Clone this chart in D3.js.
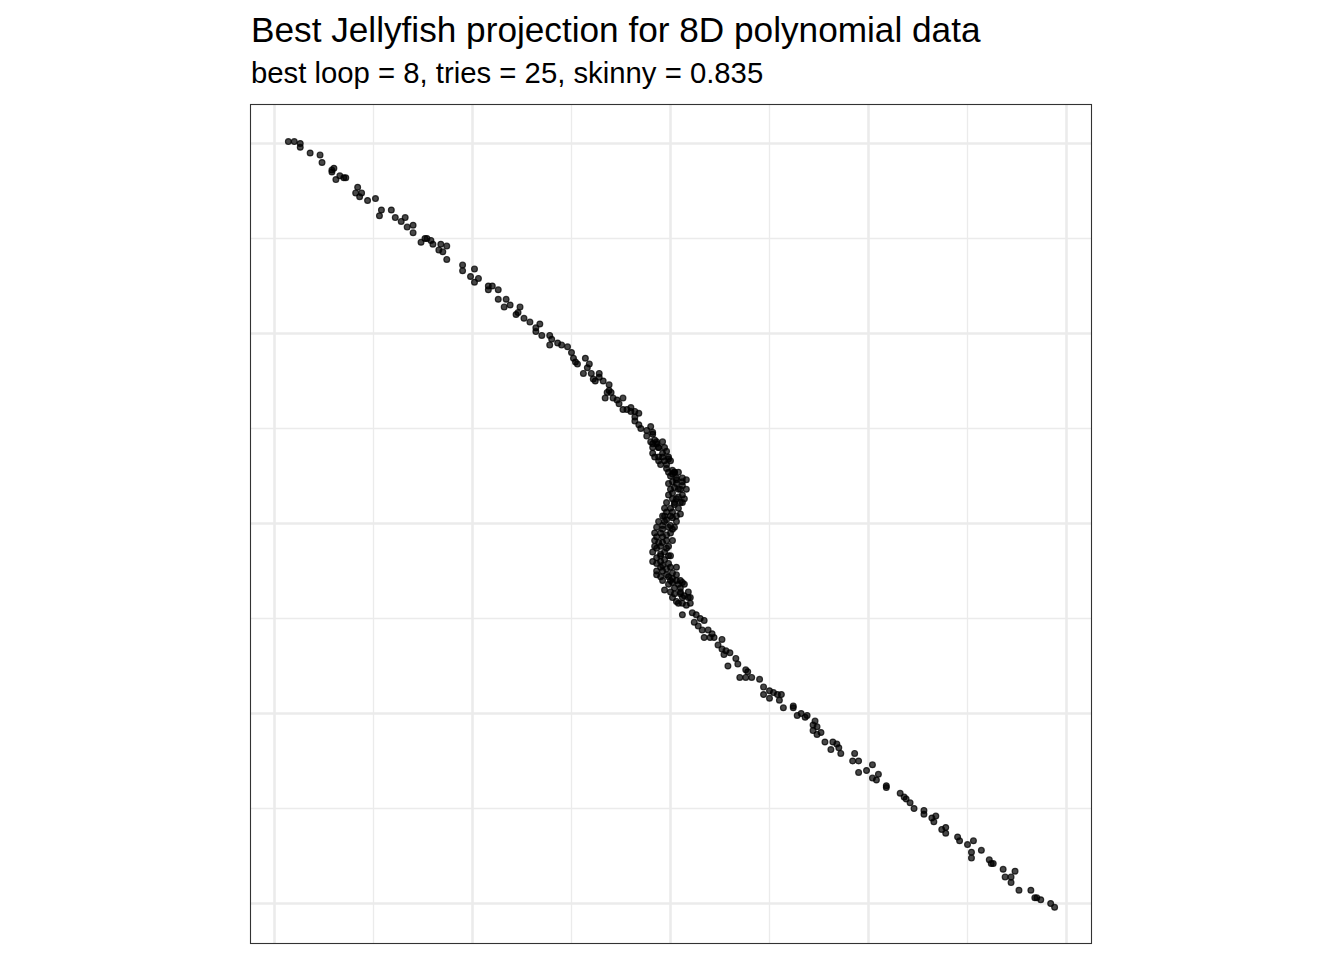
<!DOCTYPE html>
<html>
<head>
<meta charset="utf-8">
<script src="https://cdn.jsdelivr.net/npm/d3@7"></script>
<style>
  body { margin: 0; background: #fff; }
  svg text { font-family: "Liberation Sans", Arial, Helvetica, sans-serif; }
</style>
</head>
<body>
<div id="chart"></div>
<script>
// Best Jellyfish projection, 8D polynomial data
// points, split in three stretches of the curve

const TITLE    = 'Best Jellyfish projection for 8D polynomial data';
const SUBTITLE = 'best loop = 8, tries = 25, skinny = 0.835';

const MAJOR_X = [-2, -1, 0, 1, 2];
const MINOR_X = [-1.5, -0.5, 0.5, 1.5];
const MAJOR_Y = [-2, -1, 0, 1, 2];
const MINOR_Y = [-1.5, -0.5, 0.5, 1.5];

// upper left arm
const upperArm = [
  [-1.93,2.01],[-1.90,2.01],[-1.87,2.00],[-1.87,1.98],[-1.82,1.95],[-1.77,1.94],[-1.76,1.90],
  [-1.71,1.86],[-1.70,1.87],[-1.71,1.85],[-1.69,1.81],[-1.67,1.83],[-1.65,1.82],[-1.64,1.82],
  [-1.58,1.77],[-1.59,1.74],[-1.56,1.74],[-1.57,1.72],[-1.53,1.70],[-1.49,1.71],[-1.46,1.65],
  [-1.47,1.62],[-1.41,1.65],[-1.39,1.61],[-1.36,1.59],[-1.34,1.61],[-1.33,1.56],[-1.30,1.53],
  [-1.30,1.57],[-1.26,1.48],[-1.24,1.50],[-1.23,1.50],[-1.21,1.49],[-1.20,1.47],[-1.16,1.47],
  [-1.13,1.46],[-1.17,1.44],[-1.15,1.43],[-1.13,1.39],[-1.05,1.36],[-1.05,1.33],[-0.99,1.34],
  [-1.01,1.30],[-0.99,1.27],[-0.97,1.29],[-0.92,1.25],[-0.90,1.25],[-0.92,1.23],[-0.87,1.23],
  [-0.87,1.18],[-0.83,1.18],[-0.84,1.14],[-0.81,1.15],[-0.76,1.14],[-0.77,1.11],[-0.78,1.10],
  [-0.74,1.08],[-0.71,1.06],[-0.66,1.05],[-0.68,1.03],[-0.68,1.01],[-0.65,0.99],[-0.61,0.99],
  [-0.60,0.97],[-0.61,0.94],[-0.57,0.95],[-0.55,0.94],[-0.52,0.93],[-0.50,0.90],[-0.49,0.87],
  [-0.48,0.85],[-0.47,0.84],[-0.43,0.87],[-0.41,0.84],[-0.42,0.82],[-0.44,0.79],[-0.40,0.79],
  [-0.39,0.76],[-0.38,0.75],[-0.36,0.79],[-0.36,0.77],[-0.34,0.75],[-0.31,0.73],[-0.31,0.70],
  [-0.32,0.69],[-0.33,0.66],[-0.30,0.69],[-0.29,0.66],[-0.27,0.65],[-0.24,0.66],[-0.26,0.63],
  [-0.24,0.60],[-0.22,0.60],[-0.20,0.61],[-0.20,0.59],[-0.18,0.59],[-0.16,0.58],[-0.18,0.56]
];

// dense middle bend
const core = [
  [-0.18,0.54],[-0.16,0.52],[-0.15,0.50],[-0.12,0.49],[-0.10,0.51],[-0.09,0.48],[-0.12,0.46],
  [-0.09,0.47],[-0.08,0.44],[-0.09,0.42],[-0.07,0.42],[-0.06,0.40],[-0.09,0.37],[-0.06,0.35],
  [-0.06,0.33],[-0.04,0.37],[-0.02,0.38],[-0.01,0.35],[0.00,0.33],[-0.03,0.33],[-0.02,0.29],
  [0.01,0.28],[0.02,0.27],[0.01,0.26],[0.01,0.22],[0.03,0.23],[0.06,0.22],[0.08,0.23],
  [0.06,0.20],[0.02,0.19],[0.04,0.18],[0.01,0.16],[0.06,0.15],[0.03,0.13],[0.01,0.13],
  [0.07,0.13],[0.05,0.11],[0.02,0.10],[0.04,0.08],[-0.04,0.04],[-0.02,0.06],[0.01,0.06],
  [0.05,0.05],[0.01,0.03],[-0.02,0.02],[-0.04,-0.01],[0.00,-0.01],[0.02,-0.02],[-0.04,-0.03],
  [-0.07,-0.07],[-0.04,-0.07],[-0.02,-0.06],[0.01,-0.09],[-0.06,-0.10],[-0.04,-0.10],
  [-0.07,-0.13],[-0.02,-0.13],[-0.05,-0.16],[0.00,-0.17],[-0.07,-0.18],[-0.03,-0.19],
  [-0.07,-0.21],[-0.04,-0.22],[-0.01,-0.21],[0.03,-0.23],[-0.07,-0.25],[-0.04,-0.25],
  [-0.02,-0.24],[0.01,-0.26],[-0.05,-0.28],[-0.01,-0.28],[0.01,-0.29],[0.03,-0.30],
  [0.06,-0.31],[0.01,-0.31],[-0.03,-0.35],[0.02,-0.34],[0.05,-0.34],
  [-0.10,0.43],[-0.07,0.43],[-0.04,0.43],[-0.09,0.40],[-0.06,0.40],[-0.03,0.40],
  [-0.08,0.35],[-0.04,0.35],[-0.01,0.34],[-0.05,0.31],[-0.02,0.31],
  [-0.01,0.27],[0.02,0.27],[0.04,0.27],[0.00,0.25],[0.03,0.24],[0.06,0.24],
  [-0.01,0.21],[0.03,0.21],[0.00,0.18],[0.05,0.18],[0.08,0.18],[-0.01,0.15],[0.04,0.14],
  [-0.02,0.11],[0.02,0.11],[0.06,0.11],[-0.03,0.08],[0.00,0.08],
  [-0.03,0.04],[0.00,0.04],[0.03,0.04],[-0.06,0.01],[-0.03,0.01],[0.03,0.01],
  [-0.07,-0.02],[-0.01,-0.02],[0.01,-0.03],[-0.08,-0.05],[-0.05,-0.05],[0.00,-0.05],
  [-0.08,-0.09],[-0.02,-0.09],[-0.08,-0.12],[-0.05,-0.12],[-0.01,-0.12],
  [-0.09,-0.15],[-0.03,-0.15],[-0.05,-0.17],[-0.01,-0.17],[-0.09,-0.20],[-0.05,-0.20],
  [-0.05,-0.23],[0.00,-0.23],[-0.07,-0.27],[-0.02,-0.27],[0.03,-0.27],
  [-0.04,-0.30],[0.00,-0.30],[0.05,-0.30],[-0.01,-0.32],[0.04,-0.32],[0.07,-0.32],
  [0.00,-0.36],[0.05,-0.36],[0.09,-0.36]
];

// lower right arm
const lowerArm = [
  [0.01,-0.39],[0.06,-0.39],[0.10,-0.39],[0.04,-0.42],[0.10,-0.42],
  [0.02,-0.37],[0.05,-0.37],[0.07,-0.38],[0.09,-0.39],[0.03,-0.41],[0.06,-0.42],[0.08,-0.43],
  [0.06,-0.48],[0.11,-0.47],[0.13,-0.48],[0.12,-0.52],[0.15,-0.50],[0.17,-0.51],[0.14,-0.54],
  [0.16,-0.56],[0.19,-0.56],[0.17,-0.60],[0.21,-0.58],[0.20,-0.60],[0.22,-0.60],[0.26,-0.61],
  [0.24,-0.64],[0.26,-0.66],[0.28,-0.67],[0.30,-0.68],[0.27,-0.69],[0.33,-0.71],[0.29,-0.75],
  [0.34,-0.74],[0.38,-0.77],[0.39,-0.78],[0.35,-0.81],[0.38,-0.81],[0.41,-0.81],[0.45,-0.82],
  [0.47,-0.86],[0.50,-0.88],[0.52,-0.89],[0.47,-0.90],[0.50,-0.92],[0.54,-0.90],[0.56,-0.90],
  [0.55,-0.93],[0.62,-0.96],[0.57,-0.97],[0.62,-0.97],[0.64,-1.01],[0.66,-1.00],[0.68,-1.02],
  [0.69,-1.01],[0.73,-1.04],[0.72,-1.06],[0.74,-1.07],[0.72,-1.09],[0.76,-1.10],[0.74,-1.11],
  [0.78,-1.15],[0.82,-1.15],[0.84,-1.16],[0.81,-1.19],[0.85,-1.18],[0.86,-1.21],[0.93,-1.21],
  [0.92,-1.25],[0.95,-1.25],[0.99,-1.30],[0.95,-1.31],[1.02,-1.27],[1.05,-1.32],[1.02,-1.34],
  [1.04,-1.35],[1.09,-1.38],[1.09,-1.39],[1.16,-1.42],[1.18,-1.44],[1.19,-1.45],[1.21,-1.47],
  [1.23,-1.50],[1.28,-1.51],[1.28,-1.53],[1.32,-1.55],[1.34,-1.54],[1.33,-1.57],[1.37,-1.61],
  [1.39,-1.60],[1.39,-1.63],[1.45,-1.65],[1.46,-1.67],[1.50,-1.69],[1.53,-1.67],[1.52,-1.73],
  [1.52,-1.76],[1.57,-1.72],[1.61,-1.77],[1.62,-1.79],[1.63,-1.79],[1.68,-1.82],[1.69,-1.86],
  [1.72,-1.86],[1.74,-1.83],[1.72,-1.89],[1.76,-1.93],[1.82,-1.93],[1.84,-1.97],[1.85,-1.97],
  [1.87,-1.98],[1.92,-2.00],[1.94,-2.02]
];

const points = upperArm.concat(core, lowerArm);

const W = 1344, H = 960;
const panel = { left: 250.5, top: 104.5, width: 841, height: 839 };

const svg = d3.select('#chart').append('svg').attr('width', W).attr('height', H);

svg.append('text')
  .attr('x', 251).attr('y', 42)
  .attr('fill', '#000').style('font-size', '35.2px')
  .text(TITLE);

svg.append('text')
  .attr('x', 251).attr('y', 83)
  .attr('fill', '#000').style('font-size', '29.3px')
  .text(SUBTITLE);

const g = svg.append('g').attr('transform', `translate(${panel.left},${panel.top})`);

const x = d3.scaleLinear().domain([-2, 2]).range([24, 816]);
const y = d3.scaleLinear().domain([-2, 2]).range([799, 39]);

// grid: minor first, major on top
g.append('g').selectAll('line').data(MINOR_X).join('line')
  .attr('x1', d => x(d)).attr('x2', d => x(d)).attr('y1', 0).attr('y2', panel.height)
  .attr('stroke', '#ebebeb').attr('stroke-width', 1.3);
g.append('g').selectAll('line').data(MINOR_Y).join('line')
  .attr('y1', d => y(d)).attr('y2', d => y(d)).attr('x1', 0).attr('x2', panel.width)
  .attr('stroke', '#ebebeb').attr('stroke-width', 1.3);
g.append('g').selectAll('line').data(MAJOR_X).join('line')
  .attr('x1', d => x(d)).attr('x2', d => x(d)).attr('y1', 0).attr('y2', panel.height)
  .attr('stroke', '#ebebeb').attr('stroke-width', 2.6);
g.append('g').selectAll('line').data(MAJOR_Y).join('line')
  .attr('y1', d => y(d)).attr('y2', d => y(d)).attr('x1', 0).attr('x2', panel.width)
  .attr('stroke', '#ebebeb').attr('stroke-width', 2.6);

// points
g.append('g').selectAll('circle').data(points).join('circle')
  .attr('cx', d => x(d[0])).attr('cy', d => y(d[1]))
  .attr('r', 2.9)
  .attr('fill', 'rgba(0,0,0,0.72)')
  .attr('stroke', 'rgba(0,0,0,0.75)')
  .attr('stroke-width', 1.2);

// panel border
g.append('rect')
  .attr('width', panel.width).attr('height', panel.height)
  .attr('fill', 'none').attr('stroke', '#333333').attr('stroke-width', 1.1);
</script>
</body>
</html>
